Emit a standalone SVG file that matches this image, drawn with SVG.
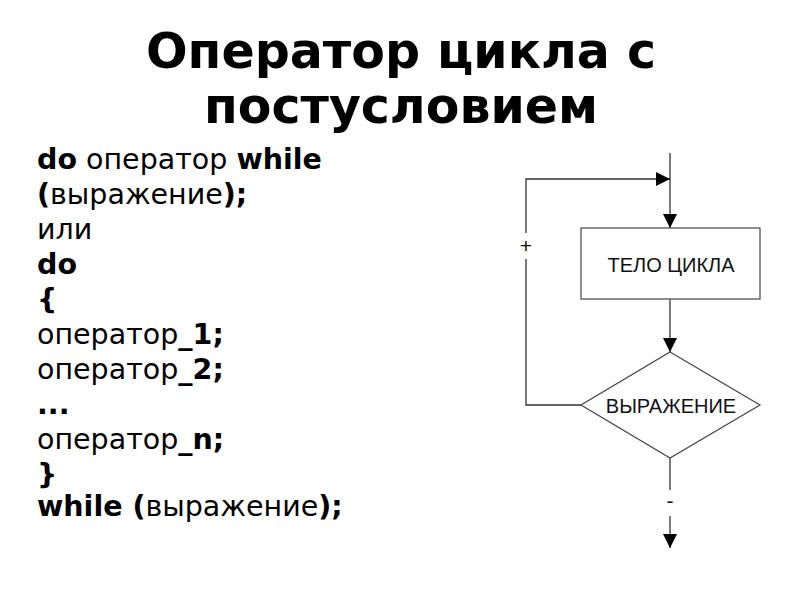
<svg xmlns="http://www.w3.org/2000/svg" width="800" height="600" viewBox="0 0 800 600">
<style>
.title{font-family:"DejaVu Sans",sans-serif;font-weight:bold;font-size:49px;fill:#000;text-anchor:middle}
.code{font-family:"DejaVu Sans",sans-serif;font-size:28.5px;fill:#000}
.b{font-weight:bold}
.fc{font-family:"Liberation Sans",Arial,sans-serif;font-size:20px;fill:#111;text-anchor:middle}
.sym{font-family:"Liberation Sans",Arial,sans-serif;font-size:21px;fill:#111;text-anchor:middle}
.shape{fill:#fff;stroke:#444;stroke-width:1.2}
.line{fill:none;stroke:#333;stroke-width:1.3}
</style>
<defs>
<marker id="arr" viewBox="0 0 10 10" refX="10" refY="5" markerWidth="14" markerHeight="14" markerUnits="userSpaceOnUse" orient="auto">
<path d="M0,0 L10,5 L0,10 z" fill="#000"/>
</marker>
</defs>
<rect width="800" height="600" fill="#fff"/>
<text class="title" x="401" y="68">Оператор цикла с</text>
<text class="title" x="401" y="123">постусловием</text>
<g id="code">
<text class="code" x="37" y="169"><tspan class="b">do</tspan> оператор <tspan class="b">while</tspan></text>
<text class="code" x="37" y="204"><tspan class="b">(</tspan>выражение<tspan class="b">);</tspan></text>
<text class="code" x="37" y="239">или</text>
<text class="code b" x="37" y="274">do</text>
<text class="code b" x="37" y="309">{</text>
<text class="code" x="37" y="344">оператор<tspan class="b">_1;</tspan></text>
<text class="code" x="37" y="379">оператор<tspan class="b">_2;</tspan></text>
<text class="code b" x="37" y="414">...</text>
<text class="code" x="37" y="449">оператор<tspan class="b">_n;</tspan></text>
<text class="code b" x="37" y="484">}</text>
<text class="code" x="37" y="516"><tspan class="b">while (</tspan>выражение<tspan class="b">);</tspan></text>
</g>
<g id="connectors">
<line class="line" x1="670" y1="153" x2="670" y2="228" marker-end="url(#arr)"/>
<line class="line" x1="670" y1="299" x2="670" y2="352" marker-end="url(#arr)"/>
<polyline class="line" points="581,405 526,405 526,259"/>
<polyline class="line" points="526,233 526,179 670,179" marker-end="url(#arr)"/>
<line class="line" x1="670" y1="458" x2="670" y2="490"/>
<line class="line" x1="670" y1="516" x2="670" y2="548" marker-end="url(#arr)"/>
<text class="sym" x="526" y="253">+</text>
<text class="sym" x="670" y="508">-</text>
</g>
<g id="body">
<rect class="shape" x="581" y="228" width="179" height="71"/>
<text class="fc" x="671" y="272">ТЕЛО ЦИКЛА</text>
</g>
<g id="condition">
<polygon class="shape" points="670,352 760,405 670,458 581,405"/>
<text class="fc" x="671" y="413">ВЫРАЖЕНИЕ</text>
</g>
</svg>
